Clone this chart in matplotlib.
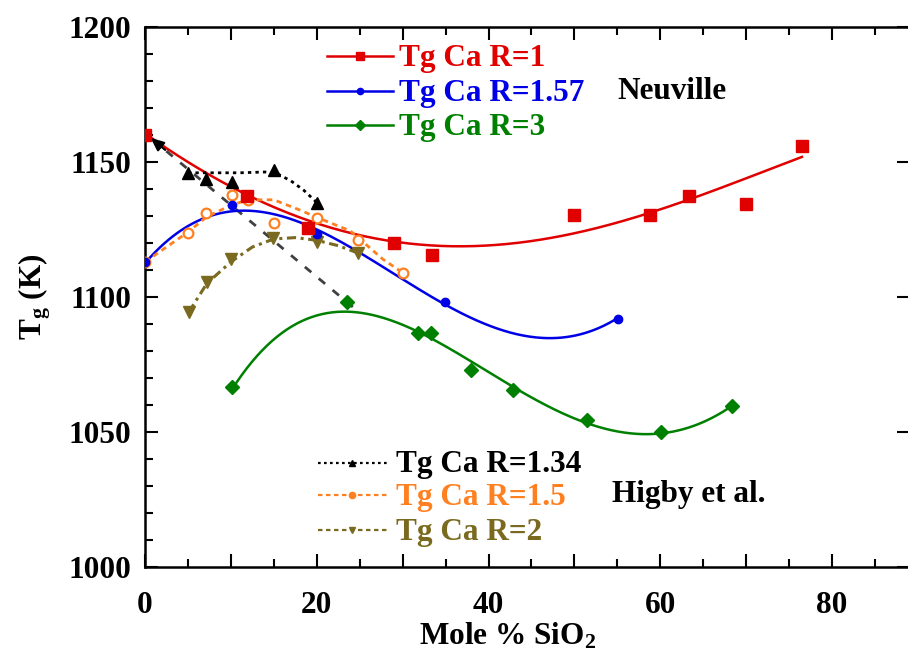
import numpy as np
import matplotlib
matplotlib.use("Agg")
import matplotlib.pyplot as plt
from matplotlib.ticker import MultipleLocator, FuncFormatter
from matplotlib.lines import Line2D

plt.rcParams['font.family'] = ['Liberation Serif', 'DejaVu Serif']
plt.rcParams['font.weight'] = 'bold'
plt.rcParams['mathtext.fontset'] = 'custom'
plt.rcParams['mathtext.rm'] = 'Liberation Serif:bold'
plt.rcParams['mathtext.it'] = 'Liberation Serif:bold'
plt.rcParams['mathtext.bf'] = 'Liberation Serif:bold'

# ---------------- data ----------------
# Neuville data points
r1_x = [0, 11.9, 19.0, 29.0, 33.4, 49.9, 58.8, 63.3, 70.0, 76.5]
r1_y = [1160, 1137.5, 1125.5, 1120, 1115.5, 1130.5, 1130.5, 1137.5, 1134.5, 1156]
r157_x = [0, 10.1, 20.0, 34.9, 55.1]
r157_y = [1113, 1134, 1123.5, 1098, 1092]
r3_x = [10.1, 23.5, 31.8, 33.3, 38.0, 42.8, 51.5, 60.1, 68.3]
r3_y = [1066.5, 1098, 1086.5, 1086.5, 1073, 1065.5, 1054.5, 1050, 1059.5]

# Neuville fitted curves
r1_fit_x = [0, 7.2, 12, 19, 29, 35, 42, 49, 58.8, 63.4, 70, 76.5]
r1_fit_y = [1160, 1147, 1138, 1127, 1120.5, 1119, 1119.5, 1124, 1130.5, 1136, 1144, 1152]
r157_fit_x = [0, 5, 7.2, 10.1, 14.9, 20, 26.5, 34.3, 41.3, 47, 52, 55.1]
r157_fit_y = [1113, 1124.8, 1129.6, 1132.5, 1132, 1124, 1113, 1099, 1088, 1084.4, 1087.8, 1092.2]
r3_fit_x = [10.1, 13, 16.9, 21.2, 22.7, 27.4, 32, 38, 42.8, 51.5, 58.4, 63, 68.3]
r3_fit_y = [1066.7, 1076.7, 1087.8, 1094.4, 1095.2, 1093.3, 1087.8, 1074, 1066.3, 1055.2, 1048.1, 1051.5, 1059.6]

# Higby et al. data points
h134_x = [5.0, 7.1, 10.1, 15.0, 20.0]
h134_y = [1146, 1143.7, 1142.6, 1147, 1135]
h15_x = [0, 5.0, 7.1, 10.1, 12.0, 15.0, 20.0, 24.8, 30.0]
h15_y = [1113, 1123.7, 1131, 1137.8, 1136, 1127.4, 1129.2, 1121, 1109]
h2_x = [5.1, 7.2, 10.0, 14.9, 20.0, 24.8]
h2_y = [1094.4, 1105.6, 1114, 1121.9, 1120.4, 1116.3]

# Higby guide lines
h134_line_x = [5, 8, 11, 14, 15.5, 17, 18.5, 20]
h134_line_y = [1146, 1146, 1146, 1146.3, 1145.5, 1143, 1139.5, 1135]
h15_line_x = [0, 2.5, 5, 7.1, 10, 12, 15, 18.2, 20, 23.9, 27.7, 30]
h15_line_y = [1113, 1118.5, 1124, 1129.5, 1134, 1136, 1136, 1132, 1129.5, 1124.5, 1114, 1109]
h2_line_x = [5.1, 7.2, 10, 12.5, 15, 17.5, 20, 22.5, 24.8]
h2_line_y = [1094.4, 1105, 1113, 1118.5, 1121.5, 1122, 1121, 1119, 1116.3]

# dashed arrow (annotation)
arrow_x = [24.2, 0.4]
arrow_y = [1096.3, 1159.6]

labels_neuville = ["Tg Ca R=1", "Tg Ca R=1.57", "Tg Ca R=3"]
labels_higby = ["Tg Ca R=1.34", "Tg Ca R=1.5", "Tg Ca R=2"]

RED = '#e00000'
BLUE = '#0000e6'
GREEN = '#008000'
BLACK = '#000000'
ORANGE = '#ff8020'
OLIVE = '#7a6a20'

FS = 22.5

fig = plt.figure(figsize=(9.08, 6.5), dpi=100)
L, R, T, B = 145, 910, 27, 567
ax = fig.add_axes([L / 908, (650 - B) / 650, (R - L) / 908, (B - T) / 650])

def smooth(xs, ys, deg=4):
    c = np.polyfit(xs, ys, deg)
    xx = np.linspace(min(xs), max(xs), 300)
    return xx, np.polyval(c, xx)

# fitted curves
for fx, fy, col in [(r1_fit_x, r1_fit_y, RED), (r157_fit_x, r157_fit_y, BLUE), (r3_fit_x, r3_fit_y, GREEN)]:
    xx, yy = smooth(fx, fy)
    ax.plot(xx, yy, color=col, lw=1.8, zorder=3)

# Higby lines
ax.plot(h134_line_x, h134_line_y, color=BLACK, lw=2, ls=(0, (1.2, 1.5)), zorder=3)
ax.plot(h15_line_x, h15_line_y, color=ORANGE, lw=2, ls=(0, (2, 1.6)), zorder=3)
ax.plot(h2_line_x, h2_line_y, color=OLIVE, lw=2.2, ls=(0, (3, 1.5, 1, 1.5)), zorder=3)

# dashed arrow
ax.plot(arrow_x, arrow_y, color='0.25', lw=2, ls=(0, (3, 3.5)), zorder=2)
ax.annotate('', xy=(arrow_x[1], arrow_y[1]), xytext=(arrow_x[1] + 2.2, arrow_y[1] - 5.8),
            arrowprops=dict(arrowstyle='-|>,head_length=0.8,head_width=0.35', color='black', lw=1.5),
            zorder=4)

# markers
ax.plot(h134_x, h134_y, ls='none', marker='^', ms=8, color=BLACK, zorder=4)
ax.plot(h2_x, h2_y, ls='none', marker='v', ms=8, color=OLIVE, zorder=4)
ax.plot(h15_x, h15_y, ls='none', marker='o', ms=7, mfc='white', mec=ORANGE, mew=1.6, zorder=4)
ax.plot(r3_x, r3_y, ls='none', marker='D', ms=7, color=GREEN, zorder=5)
ax.plot(r157_x, r157_y, ls='none', marker='o', ms=6, color=BLUE, zorder=5)
ax.plot(r1_x, r1_y, ls='none', marker='s', ms=8, color=RED, zorder=5)

# axes setup
ax.set_xlim(0, (R - L) / 8.5875)
ax.set_ylim(1000, 1200)
ax.xaxis.set_major_locator(MultipleLocator(10))
ax.xaxis.set_minor_locator(MultipleLocator(5))
ax.yaxis.set_major_locator(MultipleLocator(50))
ax.yaxis.set_minor_locator(MultipleLocator(10))
ax.xaxis.set_major_formatter(FuncFormatter(lambda v, p: f"{int(round(v))}" if int(round(v)) % 20 == 0 else ""))
ax.yaxis.set_major_formatter(FuncFormatter(lambda v, p: f"{int(round(v))}"))
ax.tick_params(which='both', direction='in', top=True, right=True, width=1.5, color='black')
ax.tick_params(which='major', length=9.5)
ax.tick_params(which='minor', length=5.5)
ax.tick_params(axis='y', which='minor', right=False)
ax.tick_params(axis='x', which='major', pad=17, labelsize=FS)
ax.tick_params(axis='y', which='major', pad=10, labelsize=FS)
for s in ax.spines.values():
    s.set_linewidth(1.8)
for lab in ax.get_xticklabels() + ax.get_yticklabels():
    lab.set_fontweight('bold')

ax.set_xlabel(r"Mole % SiO$_2$", fontsize=FS, fontweight='bold')
ax.xaxis.set_label_coords((508 - L) / (R - L), -0.1)
ax.set_ylabel(r"T$_g$ (K)", fontsize=FS, fontweight='bold')
ax.yaxis.set_label_coords(-0.12, 0.5)

# manual legends
def fxp(px):
    return (px - L) / (R - L)

def fyp(py):
    return (B - py) / (B - T)

def entry(yl, yb, x0, x1, xm, xt, label, color, ls, marker, ms, mfc=None, lw=1.8):
    ax.add_line(Line2D([fxp(x0), fxp(x1)], [fyp(yl), fyp(yl)], transform=ax.transAxes,
                       color=color, ls=ls, lw=lw, clip_on=False))
    ax.add_line(Line2D([fxp(xm)], [fyp(yl)], transform=ax.transAxes, color=color, ls='none',
                       marker=marker, ms=ms, mfc=mfc if mfc else color, mec=color, clip_on=False))
    ax.text(fxp(xt), fyp(yb), label, transform=ax.transAxes, color=color, fontsize=FS,
            fontweight='bold', va='baseline', ha='left')

top_rows = [(56, 66), (91, 101), (125, 135)]
entry(*top_rows[0], 327, 393, 360, 399, labels_neuville[0], RED, '-', 's', 6)
entry(*top_rows[1], 327, 393, 360, 399, labels_neuville[1], BLUE, '-', 'o', 4.5)
entry(*top_rows[2], 327, 393, 360, 399, labels_neuville[2], GREEN, '-', 'D', 5)
ax.text(fxp(617), fyp(99), "Neuville", transform=ax.transAxes, fontsize=FS, fontweight='bold',
        va='baseline', ha='left', color='black')

bot_rows = [(463, 472), (495, 505), (530, 540)]
entry(*bot_rows[0], 318, 387, 352, 396, labels_higby[0], BLACK, (0, (1.2, 1.5)), '^', 5, lw=1.6)
entry(*bot_rows[1], 318, 387, 352, 396, labels_higby[1], ORANGE, (0, (2, 1.6)), 'o', 4.5, lw=1.6)
entry(*bot_rows[2], 318, 387, 352, 396, labels_higby[2], OLIVE, (0, (2, 1.6)), 'v', 5, lw=1.6)
ax.text(fxp(612), fyp(502), "Higby et al.", transform=ax.transAxes, fontsize=FS, fontweight='bold',
        va='baseline', ha='left', color='black')

fig.savefig("out.png", dpi=100)
